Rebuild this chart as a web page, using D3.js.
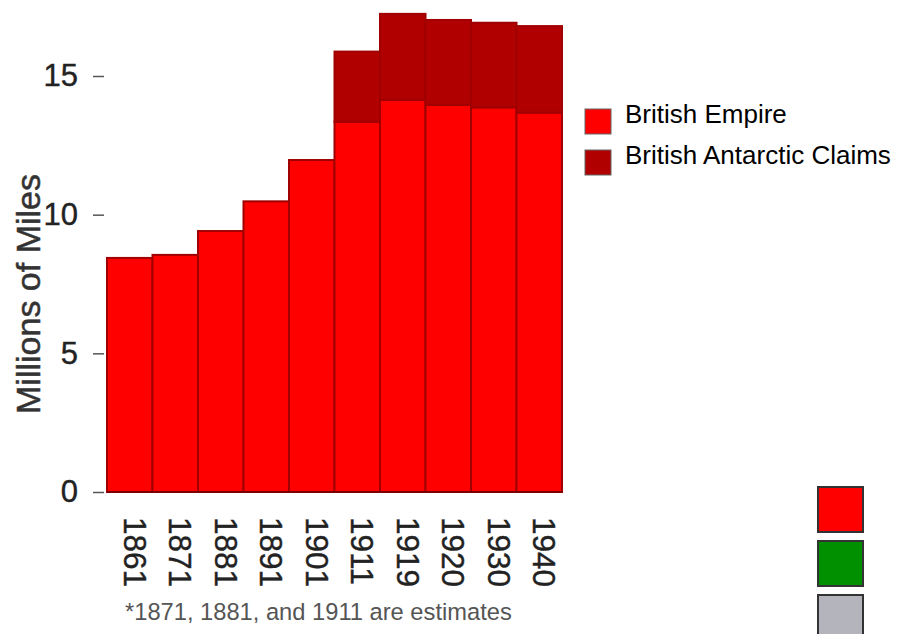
<!DOCTYPE html>
<html>
<head>
<meta charset="utf-8">
<script src="https://cdn.jsdelivr.net/npm/d3@7"></script>
<style>
  body { margin: 0; background: #fff; }
  text { font-family: "Liberation Sans", Arial, sans-serif; }
</style>
</head>
<body>
<div id="chart"></div>
<script>

// data (millions of square miles)
var years = ["1861", "1871", "1881", "1891", "1901", "1911", "1919", "1920", "1930", "1940"];
var empire = [8.44, 8.55, 9.41, 10.48, 11.97, 13.35, 14.14, 13.96, 13.87, 13.68];
var antarctic = [0, 0, 0, 0, 0, 2.53, 3.10, 3.06, 3.05, 3.12];
var seriesNames = ["British Empire", "British Antarctic Claims"];
var seriesColors = ["#ff0000", "#b00000"];
var yTicks = [0, 5, 10, 15];
var footnote = "*1871, 1881, and 1911 are estimates";
var swatchColors = ["#ff0000", "#009000", "#b4b4bc"];

var width = 897, height = 634;

var svg = d3.select("#chart")
  .append("svg")
    .attr("width", width)
    .attr("height", height);

svg.append("rect")
  .attr("width", width)
  .attr("height", height)
  .attr("fill", "#fff");

// scales
var x = d3.scaleBand()
  .domain(years)
  .range([107, 562])
  .padding(0);

var y = d3.scaleLinear()
  .domain([0, 15])
  .range([492, 76]);

// stack the two series
var rows = years.map(function (yr, i) {
  return { year: yr, empire: empire[i], antarctic: antarctic[i] };
});
var stacked = d3.stack().keys(["empire", "antarctic"])(rows);

svg.append("g")
  .selectAll("g")
  .data(stacked)
  .enter()
  .append("g")
    .attr("fill", function (d, i) { return seriesColors[i]; })
  .selectAll("rect")
  .data(function (d) { return d.filter(function (p) { return p[1] - p[0] > 0; }); })
  .enter()
  .append("rect")
    .attr("x", function (d) { return x(d.data.year); })
    .attr("y", function (d) { return y(d[1]); })
    .attr("width", x.bandwidth())
    .attr("height", function (d) { return y(d[0]) - y(d[1]); })
    .attr("stroke", "#a00000")
    .attr("stroke-width", 2);

// Y axis
var yAxis = svg.append("g")
  .attr("transform", "translate(104,0)")
  .call(d3.axisLeft(y).tickValues(yTicks).tickSize(11).tickPadding(15));
yAxis.select(".domain").remove();
yAxis.selectAll(".tick line").attr("stroke", "#555").attr("stroke-width", 1.5);
yAxis.selectAll(".tick text")
  .attr("fill", "#222")
  .attr("stroke", "#222")
  .attr("stroke-width", 0.4)
  .style("font-size", "31px")
  .style("font-family", "Liberation Sans, Arial, sans-serif");

// baseline
svg.append("line")
  .attr("x1", x.range()[0])
  .attr("x2", x.range()[1])
  .attr("y1", y(0))
  .attr("y2", y(0))
  .attr("stroke", "#700000")
  .attr("stroke-width", 1.5);

// Y title
svg.append("text")
  .attr("transform", "translate(28," + 294 + ") rotate(-90)")
  .attr("text-anchor", "middle")
  .attr("dominant-baseline", "central")
  .attr("fill", "#333")
  .attr("stroke", "#333")
  .attr("stroke-width", 0.5)
  .style("font-size", "34px")
  .text("Millions of Miles");

// X labels, rotated to read downward
svg.append("g")
  .selectAll("text")
  .data(years)
  .enter()
  .append("text")
    .attr("transform", function (d) {
      return "translate(" + (x(d) + x.bandwidth() / 2 + 5) + ",517) rotate(90)";
    })
    .attr("text-anchor", "start")
    .attr("dominant-baseline", "central")
    .attr("fill", "#222")
    .attr("stroke", "#222")
    .attr("stroke-width", 0.4)
    .style("font-size", "31.5px")
    .text(function (d) { return d; });

// footnote
svg.append("text")
  .attr("x", 125)
  .attr("y", 620)
  .attr("fill", "#555")
  .style("font-size", "23.7px")
  .text(footnote);

// legend
var legend = svg.append("g")
  .selectAll("g")
  .data(seriesNames)
  .enter()
  .append("g")
    .attr("transform", function (d, i) { return "translate(585," + (109 + i * 41) + ")"; });

legend.append("rect")
  .attr("width", 26)
  .attr("height", 25)
  .attr("fill", function (d, i) { return seriesColors[i]; })
  .attr("stroke", "#666")
  .attr("stroke-width", 1);

legend.append("text")
  .attr("x", 40)
  .attr("y", 14)
  .attr("fill", "#000")
  .style("font-size", "26px")
  .text(function (d) { return d; });

// colour swatches at the bottom right
svg.append("g")
  .selectAll("rect")
  .data(swatchColors)
  .enter()
  .append("rect")
    .attr("x", 818)
    .attr("y", function (d, i) { return 487 + i * 54; })
    .attr("width", 45)
    .attr("height", 45)
    .attr("fill", function (d) { return d; })
    .attr("stroke", "#333")
    .attr("stroke-width", 2);

</script>
</body>
</html>
